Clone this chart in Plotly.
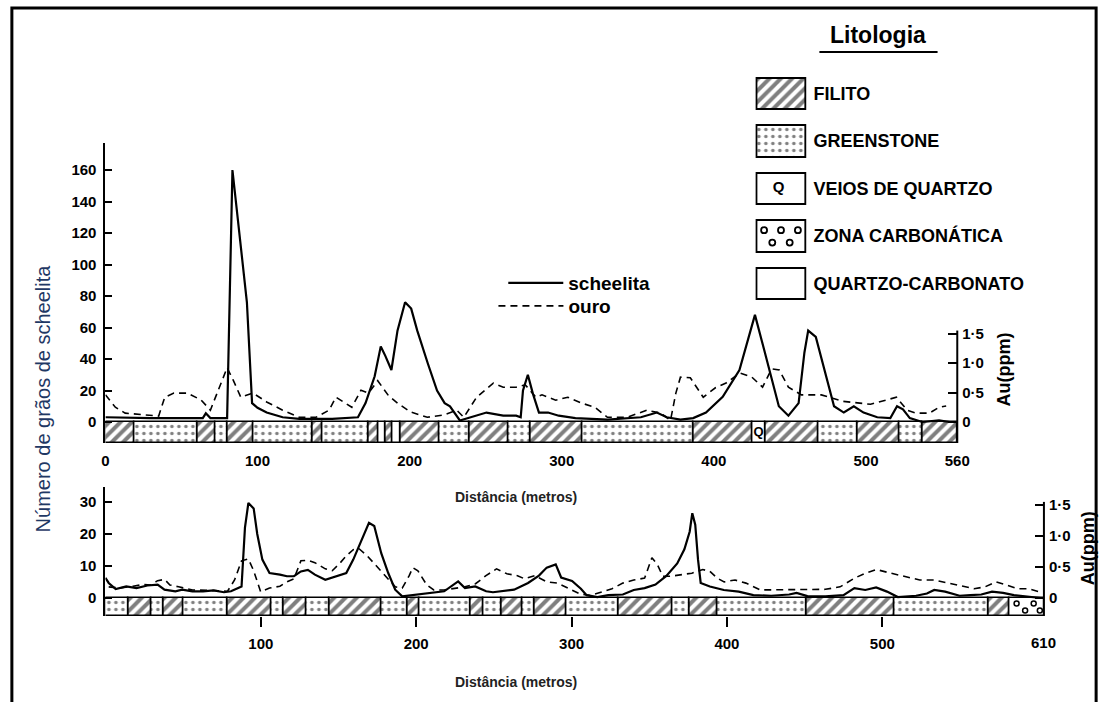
import plotly.graph_objects as go

# ---------------- DATA ----------------
# Upper profile (0-560 m)
top_dist_scheelita = [0, 30, 64, 66, 69, 80, 83.5, 86.7, 93, 96.4, 100, 106, 116.5, 127.5, 149, 166, 171, 177, 181, 184,
                      188, 192, 197, 201, 205, 212, 218, 223, 226.5, 233, 239.5, 250.5, 261.5, 270, 273, 274.5, 277.7, 281, 285, 291,
                      298, 309, 330, 352, 362.5, 369, 378, 386.4, 394.8, 405.8, 416.8, 422, 427, 433, 438, 442.7, 449, 455.7, 459.5, 462,
                      467, 472.5, 479, 485.4, 492, 498.4, 507.4, 516, 520.4, 524.3, 528.8, 537, 548, 555]
top_scheelita = [3, 2.5, 2.5, 5.5, 2.5, 2.5, 160, 133, 76, 12, 9, 6, 3, 2, 2, 3, 12, 29, 48, 42,
                 33, 58, 76, 72, 58, 37, 20, 12, 10, 1, 3, 6, 4, 4, 3, 20, 30, 18, 6, 6,
                 4, 2.5, 1.5, 3, 6, 3, 1.5, 2.5, 6, 16, 33, 50, 68, 46, 27, 10, 4, 12, 44, 58,
                 54, 33, 10, 6, 10, 6, 3, 2.5, 10, 8, 2.5, 0, 1, 0]
top_dist_ouro = [0, 6.5, 13, 24, 35, 39, 45, 54, 63, 69, 76, 80, 84, 89, 97, 106, 116.5, 127.5, 138.5, 147,
                 151.5, 162, 168, 173, 179, 186, 192, 200.6, 211.6, 222.6, 231, 235.6, 244, 255, 261.5, 270, 276, 283, 287, 296,
                 304, 313, 321.7, 330, 343, 356, 365, 371.5, 375, 378, 384.5, 393, 401, 408, 417, 425, 432, 438, 443, 449,
                 457.6, 470.6, 485, 503, 520, 527, 533, 541.7, 548, 552.7]
top_ouro = [0.46, 0.25, 0.15, 0.12, 0.1, 0.42, 0.49, 0.49, 0.37, 0.2, 0.66, 0.92, 0.71, 0.42, 0.49, 0.34, 0.2, 0.08, 0.08, 0.2,
            0.42, 0.25, 0.54, 0.49, 0.7, 0.45, 0.32, 0.17, 0.08, 0.12, 0.2, 0.08, 0.42, 0.66, 0.59, 0.59, 0.63, 0.42, 0.46, 0.37,
            0.42, 0.32, 0.25, 0.08, 0.08, 0.2, 0.15, 0.03, 0.49, 0.76, 0.75, 0.42, 0.58, 0.66, 0.83, 0.76, 0.59, 0.9, 0.88, 0.59,
            0.46, 0.46, 0.35, 0.3, 0.42, 0.2, 0.15, 0.15, 0.25, 0.27]

# Lower profile (0-610 m)
bot_dist_scheelita = [0, 2.1, 6.6, 13.4, 20, 27, 33.6, 38, 45, 49.4, 56, 62.8, 69.6, 76.3, 80.8, 87.6, 89.8, 92, 95.4, 97.7,
                      101, 105.6, 112.3, 116.8, 121.3, 125.8, 130.3, 134.8, 141.5, 148.3, 155, 159.5, 164, 169.6, 173, 177.5, 182, 186.5, 191, 200,
                      209, 218, 227, 231.4, 238, 245, 249.4, 256, 263, 272, 279, 284, 289.8, 293.3, 300.3, 306, 309.7, 316.6, 323.6, 333,
                      340, 347, 354, 361, 368, 372.6, 376, 377.7, 379.6, 381.4, 383.1, 389, 398, 407.6, 417, 428.5, 440, 444.8, 451.8, 463.4,
                      475, 482, 489, 496, 503, 510, 521.7, 528.7, 533.4, 540.4, 549.7, 556.7, 563.7, 570.6, 577.7, 584.7, 594, 602]
bot_scheelita = [6.3, 4.7, 2.8, 3.6, 3.1, 3.9, 4.2, 2.6, 2.1, 2.6, 2.1, 2.1, 2.4, 1.8, 2.1, 3.6, 22, 29.7, 28, 20,
                 12, 7.8, 7.3, 6.8, 6.8, 8.3, 8.8, 7.3, 5.7, 6.8, 7.8, 12, 17, 23.5, 22.5, 14, 7.8, 2.6, 0.5, 1,
                 1.6, 2.1, 5.2, 3.1, 3.6, 2.1, 1.8, 2.1, 2.6, 4.7, 7, 9.5, 10.5, 6.4, 5.3, 2.9, 0.9, 0.3, 0.9, 1.1,
                 2.5, 3.1, 4.2, 6.9, 10.8, 15.2, 20.7, 26.5, 22.9, 11.9, 4.7, 3.6, 2.5, 2, 0.9, 0.7, 1.1, 1.6, 0.6, 0.5,
                 0.9, 3.1, 2.5, 3.3, 2, 0.3, 0.7, 1.4, 2.5, 2, 0.7, 0.9, 1.1, 2, 1.6, 0.9, 0.3, 0]
bot_dist_ouro = [2.1, 8.8, 17.8, 24.5, 29, 33.6, 38.1, 41.5, 47.1, 56.1, 69.6, 78.6, 83.1, 87.6, 92, 95.4, 99.9, 105.6, 112.3, 116.8,
                 121.3, 125.8, 130.3, 134.8, 141.5, 146, 150.5, 155, 159.5, 163, 168.5, 175.3, 182, 186.5, 191, 195.5, 197.8, 201.1, 206.8, 211.3,
                 218, 224.7, 231.4, 238.2, 244.9, 251.7, 258.4, 265.2, 269.7, 276.4, 284, 291, 295.7, 300.3, 305, 312, 319, 326, 333, 340,
                 347, 351.7, 355.2, 358.7, 363.4, 370.4, 377.4, 384.4, 389, 393.7, 398.2, 405.2, 412.2, 421.5, 430.9, 440.2, 451.8, 463.4, 472.8, 482.1,
                 489.1, 496.1, 505.5, 514.8, 524.1, 533.4, 542.8, 552.1, 559.1, 566.1, 573.1, 580.1, 587.1, 594, 601]
bot_ouro = [0.18, 0.16, 0.19, 0.22, 0.21, 0.28, 0.3, 0.21, 0.18, 0.13, 0.12, 0.11, 0.29, 0.6, 0.63, 0.44, 0.1, 0.16, 0.19, 0.26,
            0.31, 0.6, 0.61, 0.57, 0.47, 0.44, 0.55, 0.68, 0.78, 0.8, 0.68, 0.49, 0.31, 0.18, 0.16, 0.36, 0.49, 0.44, 0.21, 0.13,
            0.13, 0.15, 0.18, 0.23, 0.36, 0.47, 0.39, 0.36, 0.31, 0.36, 0.26, 0.24, 0.18, 0.13, 0.07, 0.04, 0.1, 0.15, 0.24, 0.29,
            0.32, 0.65, 0.54, 0.35, 0.35, 0.37, 0.4, 0.46, 0.43, 0.32, 0.26, 0.29, 0.24, 0.13, 0.13, 0.13, 0.14, 0.14, 0.18, 0.32,
            0.4, 0.46, 0.4, 0.35, 0.29, 0.29, 0.24, 0.18, 0.15, 0.18, 0.26, 0.21, 0.15, 0.15, 0.1]

# Lithology strips: boundaries (m) and unit codes
top_litho_bounds = [0, 18.8, 60.8, 72.5, 80.3, 97.1, 135.9, 142.4, 172.8, 179.3, 183.8, 189, 194.2, 219.4, 239.5, 264.7,
                    279.6, 313.3, 386.4, 425.2, 433.7, 468.6, 494.5, 522.3, 537.2, 560]
top_litho_types = ["F", "G", "F", "G", "F", "G", "F", "G", "F", "QC", "F", "QC", "F", "G", "F", "G",
                   "F", "G", "F", "Q", "F", "G", "F", "G", "F"]
bot_litho_bounds = [0, 15, 29.8, 37.2, 49.9, 78.4, 106.9, 114.3, 129.1, 143.9, 177.7, 194.6, 202, 234.8, 243.2, 254.8,
                    268.6, 276, 297, 330, 365, 376, 394, 451, 508, 568, 582, 604]
bot_litho_types = ["G", "F", "G", "F", "G", "F", "G", "F", "G", "F", "G", "F", "G", "F", "G", "F",
                   "G", "F", "G", "F", "G", "F", "G", "F", "G", "F", "Z"]

litho_codes = ["F", "G", "Q", "Z", "QC"]
litho_names = ["FILITO", "GREENSTONE", "VEIOS DE QUARTZO", "ZONA CARBONÁTICA", "QUARTZO-CARBONATO"]

top_x_ticks = [0, 100, 200, 300, 400, 500, 560]
bot_x_ticks = [100, 200, 300, 400, 500]
bot_x_end_label = "610"
top_y_ticks = [0, 20, 40, 60, 80, 100, 120, 140, 160]
bot_y_ticks = [0, 10, 20, 30]
au_ticks = [0, 0.5, 1.0, 1.5]
au_ticklabels = ["0", "0·5", "1·0", "1·5"]

# ---------------- GEOMETRY / STYLE ----------------
W, H = 1117, 702
def fx(p): return p / W
def fy(p): return 1 - p / H

FONT = "Liberation Sans"
TICKFONT = dict(family=FONT, size=15, color="black", weight="bold")

TOP_X_PX, TOP_Y_PX, TOP_ZERO = (103, 968), (143, 443), 422
TOP_SCH_S, TOP_AU_S = 1.575, 59.0
BOT_X_PX, BOT_Y_PX, BOT_ZERO = (103, 1056), (487, 616), 598
BOT_SCH_S, BOT_AU_S = 3.2, 62.0

def yrange(ypx, zero, s):
    return [(zero - ypx[1]) / s, (zero - ypx[0]) / s]

top_yr = yrange(TOP_Y_PX, TOP_ZERO, TOP_SCH_S)
top_y2r = yrange(TOP_Y_PX, TOP_ZERO, TOP_AU_S)
bot_yr = yrange(BOT_Y_PX, BOT_ZERO, BOT_SCH_S)
bot_y2r = yrange(BOT_Y_PX, BOT_ZERO, BOT_AU_S)

PATTERNS = {
    "F": dict(shape="/", fgcolor="black", bgcolor="white", size=8, solidity=0.5),
    "G": dict(shape=".", fgcolor="black", bgcolor="white", size=7, solidity=0.2),
    "Q": dict(shape=""),
    "Z": dict(shape=""),
    "QC": dict(shape=""),
}

fig = go.Figure()

def seg_of(bounds, types, code):
    xs, ws = [], []
    for a, b, t in zip(bounds[:-1], bounds[1:], types):
        if t == code:
            xs.append((a + b) / 2)
            ws.append(b - a)
    return xs, ws

def add_strip(bounds, types, xa, ya, base):
    for code in litho_codes:
        xs, ws = seg_of(bounds, types, code)
        if not xs:
            continue
        fig.add_trace(go.Bar(
            x=xs, y=[-base] * len(xs), base=[base] * len(xs), width=ws,
            marker=dict(color="white", pattern=PATTERNS[code], line=dict(color="black", width=1.6)),
            xaxis=xa, yaxis=ya, showlegend=False, hoverinfo="skip"))
        if code == "Q":
            fig.add_trace(go.Scatter(x=xs, y=[base / 2] * len(xs), mode="text", text=["Q"] * len(xs),
                                     textfont=dict(family=FONT, size=13, weight="bold", color="black"),
                                     xaxis=xa, yaxis=ya, showlegend=False, hoverinfo="skip"))
        if code == "Z":
            cx, cy = [], []
            for c, w in zip(xs, ws):
                for k, f in enumerate([0.2, 0.45, 0.7, 0.88]):
                    cx.append(c - w / 2 + f * w)
                    cy.append(base * (0.3 if k % 2 == 0 else 0.7))
            fig.add_trace(go.Scatter(x=cx, y=cy, mode="markers",
                                     marker=dict(symbol="circle-open", size=5, color="black", line=dict(width=1.5)),
                                     xaxis=xa, yaxis=ya, showlegend=False, hoverinfo="skip"))

add_strip(top_litho_bounds, top_litho_types, "x", "y", top_yr[0])
add_strip(bot_litho_bounds, bot_litho_types, "x2", "y3", bot_yr[0])

# curves
fig.add_trace(go.Scatter(x=top_dist_scheelita, y=top_scheelita, mode="lines", name="scheelita",
                         line=dict(color="black", width=2.2), xaxis="x", yaxis="y", legend="legend"))
fig.add_trace(go.Scatter(x=top_dist_ouro, y=top_ouro, mode="lines", name="ouro",
                         line=dict(color="black", width=1.6, dash="7px,5px"), xaxis="x", yaxis="y2",
                         legend="legend2"))
fig.add_trace(go.Scatter(x=bot_dist_scheelita, y=bot_scheelita, mode="lines", showlegend=False,
                         line=dict(color="black", width=2.2), xaxis="x2", yaxis="y3"))
fig.add_trace(go.Scatter(x=bot_dist_ouro, y=bot_ouro, mode="lines", showlegend=False,
                         line=dict(color="black", width=1.6, dash="7px,5px"), xaxis="x2", yaxis="y4"))

# lithology key (boxes)
for i, code in enumerate(litho_codes):
    fig.add_trace(go.Bar(y=[i], x=[1], base=[0], width=0.66, orientation="h",
                         marker=dict(color="white", pattern=PATTERNS[code], line=dict(color="black", width=2)),
                         xaxis="x3", yaxis="y5", showlegend=False, hoverinfo="skip"))
iq = litho_codes.index("Q")
fig.add_trace(go.Scatter(x=[0.45], y=[iq], mode="text", text=["Q"],
                         textfont=dict(family=FONT, size=15, weight="bold", color="black"),
                         xaxis="x3", yaxis="y5", showlegend=False, hoverinfo="skip"))
iz = litho_codes.index("Z")
fig.add_trace(go.Scatter(x=[0.15, 0.5, 0.85, 0.32, 0.68], y=[iz - 0.12] * 3 + [iz + 0.14] * 2, mode="markers",
                         marker=dict(symbol="circle-open", size=6, color="black", line=dict(width=1.8)),
                         xaxis="x3", yaxis="y5", showlegend=False, hoverinfo="skip"))

LEGFONT = dict(family=FONT, size=19, color="black", weight="bold")
noline = dict(showgrid=False, zeroline=False)
fig.update_layout(
    width=W, height=H, margin=dict(l=0, r=0, t=0, b=0),
    paper_bgcolor="white", plot_bgcolor="rgba(0,0,0,0)",
    barmode="overlay", bargap=0,
    font=dict(family=FONT, color="black"),
    xaxis=dict(domain=[fx(TOP_X_PX[0]), fx(TOP_X_PX[1])], range=[0, 560], anchor="y",
               tickvals=top_x_ticks, ticks="", showline=False, tickfont=TICKFONT,
               ticklabelstandoff=7, **noline),
    yaxis=dict(domain=[fy(TOP_Y_PX[1]), fy(TOP_Y_PX[0])], range=top_yr, anchor="x",
               tickvals=top_y_ticks, ticks="inside", ticklen=7, tickwidth=2, tickcolor="black",
               showline=True, linecolor="black", linewidth=2, tickfont=TICKFONT,
               ticklabelstandoff=4, **noline),
    yaxis2=dict(overlaying="y", side="right", anchor="x", range=top_y2r,
                tickvals=au_ticks, ticktext=au_ticklabels, ticks="inside", ticklen=9, tickwidth=2,
                tickcolor="black", showline=False, tickfont=TICKFONT, ticklabelstandoff=4, **noline),
    xaxis2=dict(domain=[fx(BOT_X_PX[0]), fx(BOT_X_PX[1])], range=[0, 604], anchor="y3",
                tickvals=bot_x_ticks, ticks="outside", ticklen=10, tickwidth=2, tickcolor="black",
                showline=False, tickfont=TICKFONT, ticklabelstandoff=4, **noline),
    yaxis3=dict(domain=[fy(BOT_Y_PX[1]), fy(BOT_Y_PX[0])], range=bot_yr, anchor="x2",
                tickvals=bot_y_ticks, ticks="inside", ticklen=7, tickwidth=2, tickcolor="black",
                showline=True, linecolor="black", linewidth=2, tickfont=TICKFONT,
                ticklabelstandoff=4, **noline),
    yaxis4=dict(overlaying="y3", side="right", anchor="x2", range=bot_y2r,
                tickvals=au_ticks, ticktext=au_ticklabels, ticks="inside", ticklen=9, tickwidth=2,
                tickcolor="black", showline=False, tickfont=TICKFONT, ticklabelstandoff=4, **noline),
    xaxis3=dict(domain=[fx(763), fx(815)], range=[-0.03, 1.03], anchor="y5", visible=False),
    yaxis5=dict(domain=[fy(307), fy(70)], range=[4.5, -0.5], anchor="x3", side="right",
                tickvals=list(range(len(litho_names))), ticktext=litho_names, ticks="",
                tickfont=dict(family=FONT, size=18, color="black", weight="bold"),
                ticklabelstandoff=6, showline=False, **noline),
    legend=dict(x=fx(507), y=fy(264), xanchor="left", yanchor="top", bgcolor="rgba(0,0,0,0)",
                font=LEGFONT, itemwidth=55),
    legend2=dict(x=fx(497), y=fy(287), xanchor="left", yanchor="top", bgcolor="rgba(0,0,0,0)",
                 font=LEGFONT, itemwidth=65),
    showlegend=True,
)

shapes = [
    dict(type="rect", xref="paper", yref="paper", x0=fx(8), x1=fx(1109), y0=fy(740), y1=fy(8),
         line=dict(color="black", width=3)),
    dict(type="line", xref="x domain", yref="y2", x0=1, x1=1, y0=top_y2r[0], y1=1.55,
         line=dict(color="black", width=2)),
    dict(type="line", xref="x2 domain", yref="y4", x0=1, x1=1, y0=bot_y2r[0], y1=1.55,
         line=dict(color="black", width=2)),
    dict(type="line", xref="paper", yref="paper", x0=fx(828), x1=fx(948), y0=fy(52), y1=fy(52),
         line=dict(color="black", width=2)),
]
fig.update_layout(shapes=shapes)

ann = [
    dict(text="Número de grãos de scheelita", x=fx(40), y=fy(398), textangle=-90,
         font=dict(family=FONT, size=20, color="#1f3864")),
    dict(text="Distância (metros)", x=fx(520), y=fy(497),
         font=dict(family=FONT, size=14, color="#222222", weight="bold")),
    dict(text="Distância (metros)", x=fx(520), y=fy(682),
         font=dict(family=FONT, size=14, color="#222222", weight="bold")),
    dict(text="Au(ppm)", x=fx(1015), y=fy(370), textangle=-90,
         font=dict(family=FONT, size=18, color="black", weight="bold")),
    dict(text="Au(ppm)", x=fx(1101), y=fy(548), textangle=-90,
         font=dict(family=FONT, size=18, color="black", weight="bold")),
    dict(text="Litologia", x=fx(888), y=fy(35),
         font=dict(family=FONT, size=23, color="black", weight="bold")),
    dict(text=bot_x_end_label, x=604, xref="x2", y=fy(642),
         font=TICKFONT),
]
for a in ann:
    a.setdefault("xref", "paper")
    a.setdefault("yref", "paper")
    a["showarrow"] = False
    a["xanchor"] = "center"
    a["yanchor"] = "middle"
fig.update_layout(annotations=ann)

fig.write_html("out.html", config={"displayModeBar": False},
               post_script="document.body.style.margin='0';document.body.style.overflow='hidden';")
